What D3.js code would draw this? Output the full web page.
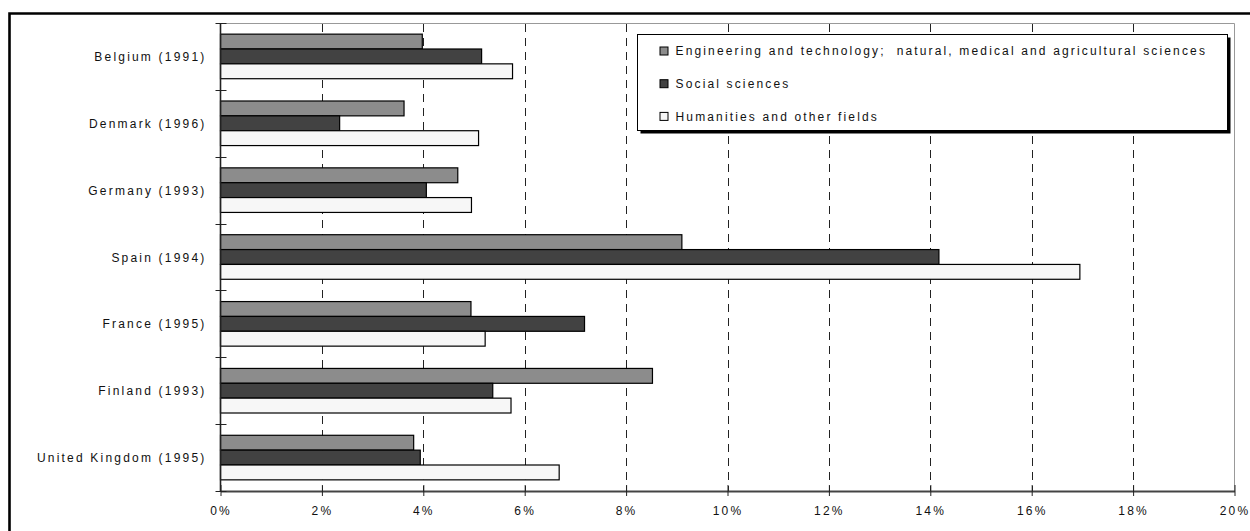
<!DOCTYPE html>
<html>
<head>
<meta charset="utf-8">
<script src="https://cdn.jsdelivr.net/npm/d3@7"></script>
<style>
  html, body { margin: 0; padding: 0; background: #fff; }
  svg { display: block; font-family: "Liberation Sans", Arial, sans-serif; }
  text { white-space: pre; }
</style>
</head>
<body>
<svg id="chart" width="1250" height="531"></svg>
<script>
// Share of each field, by country (percent)
const categories = [
  "Belgium (1991)", "Denmark (1996)", "Germany (1993)", "Spain (1994)",
  "France (1995)", "Finland (1993)", "United Kingdom (1995)"
];
const seriesNames = [
  "Engineering and technology;  natural, medical and agricultural sciences",
  "Social sciences",
  "Humanities and other fields"
];
const engineering = [3.98, 3.62, 4.68, 9.1, 4.94, 8.52, 3.81];
const social      = [5.15, 2.35, 4.06, 14.17, 7.18, 5.37, 3.94];
const humanities  = [5.76, 5.09, 4.95, 16.95, 5.22, 5.73, 6.68];
const tickValues  = [0, 2, 4, 6, 8, 10, 12, 14, 16, 18, 20];

const seriesValues = [engineering, social, humanities];
const colors = ["#8c8c8c", "#424242", "#f7f7f7"];

const svg = d3.select("#chart");
const plot = { left: 220.5, right: 1234.5, top: 23, bottom: 491 };

// Outer frame (extends past the right and bottom edges)
svg.append("path")
  .attr("d", `M9.5,531 V13.5 H1250`)
  .attr("fill", "none").attr("stroke", "#000").attr("stroke-width", 2.6);

const x = d3.scaleLinear().domain([0, 20]).range([plot.left, plot.right]);
const y = d3.scaleBand().domain(categories).range([plot.top, plot.bottom]).padding(0);
const ySub = d3.scaleBand().domain(d3.range(seriesNames.length))
  .range([0, y.bandwidth()]).paddingInner(0).paddingOuter(0.75);

// Plot area border (top and right)
svg.append("path")
  .attr("d", `M${plot.left},${plot.top + 0.5} H${plot.right} V${plot.bottom}`)
  .attr("fill", "none").attr("stroke", "#999").attr("stroke-width", 1);

// Dashed vertical gridlines
svg.append("g").selectAll("line")
  .data(tickValues.filter(v => v > 0 && v < 20))
  .join("line")
  .attr("x1", d => Math.round(x(d)) + 0.5).attr("x2", d => Math.round(x(d)) + 0.5)
  .attr("y1", plot.top + 1).attr("y2", plot.bottom)
  .attr("stroke", "#222").attr("stroke-width", 1)
  .attr("stroke-dasharray", "8,6");

// Bars
const rows = categories.map((c, i) => ({ c, vals: seriesValues.map(s => s[i]) }));
const groups = svg.append("g").selectAll("g")
  .data(rows).join("g")
  .attr("transform", d => `translate(0,${y(d.c)})`);
groups.selectAll("rect")
  .data(d => d.vals.map((v, k) => ({ v, k })))
  .join("rect")
  .attr("x", x(0))
  .attr("y", d => ySub(d.k))
  .attr("width", d => x(d.v) - x(0))
  .attr("height", ySub.bandwidth())
  .attr("fill", d => colors[d.k])
  .attr("stroke", "#000").attr("stroke-width", 1.2);

// X axis
const xAxis = d3.axisBottom(x).tickValues(tickValues)
  .tickFormat(d => d + "%").tickSizeInner(5).tickSizeOuter(0).tickPadding(10);
const gx = svg.append("g").attr("transform", `translate(0,${plot.bottom})`).call(xAxis);
gx.select(".domain").attr("stroke", "#444").attr("stroke-width", 2);
gx.selectAll(".tick line").attr("y1", -6).attr("stroke", "#222");
gx.selectAll(".tick text")
  .attr("font-size", 12).attr("fill", "#111")
  .attr("letter-spacing", "2.2px")
  .attr("font-family", "'Liberation Sans', Arial, sans-serif");

// Y axis: labels centred on bands, ticks between categories
const gy = svg.append("g");
gy.append("line")
  .attr("x1", plot.left).attr("x2", plot.left)
  .attr("y1", plot.top).attr("y2", plot.bottom)
  .attr("stroke", "#222").attr("stroke-width", 1.6);
const boundaries = categories.map(c => y(c)).concat([plot.bottom]);
gy.selectAll(".cat-tick").data(boundaries).join("line")
  .attr("class", "cat-tick")
  .attr("x1", plot.left - 5).attr("x2", plot.left + 6)
  .attr("y1", d => Math.round(d) + 0.5).attr("y2", d => Math.round(d) + 0.5)
  .attr("stroke", "#222").attr("stroke-width", 1);
gy.selectAll(".cat-label").data(categories).join("text")
  .attr("class", "cat-label")
  .attr("x", plot.left - 14)
  .attr("y", d => y(d) + y.bandwidth() / 2)
  .attr("dy", "0.38em")
  .attr("text-anchor", "end")
  .attr("font-size", 12).attr("fill", "#111")
  .attr("letter-spacing", "2.2px")
  .text(d => d);

// Legend with drop shadow
const legend = { x: 637.5, y: 34.5, w: 590, h: 96 };
svg.append("rect")
  .attr("x", legend.x + 3).attr("y", legend.y + 3)
  .attr("width", legend.w).attr("height", legend.h)
  .attr("fill", "#000");
svg.append("rect")
  .attr("x", legend.x).attr("y", legend.y)
  .attr("width", legend.w).attr("height", legend.h)
  .attr("fill", "#fff").attr("stroke", "#000").attr("stroke-width", 1);
const items = svg.append("g").selectAll("g")
  .data(seriesNames).join("g")
  .attr("transform", (d, i) => `translate(${legend.x + 22},${legend.y + 16 + i * 32.7})`);
items.append("rect")
  .attr("x", 0.5).attr("y", -3.5).attr("width", 8).attr("height", 8)
  .attr("fill", (d, i) => colors[i]).attr("stroke", "#000").attr("stroke-width", 1);
items.append("text")
  .attr("x", 16).attr("y", 0.5).attr("dy", "0.36em")
  .attr("font-size", 12).attr("fill", "#111")
  .attr("letter-spacing", "2.15px")
  .text(d => d);
</script>
</body>
</html>
